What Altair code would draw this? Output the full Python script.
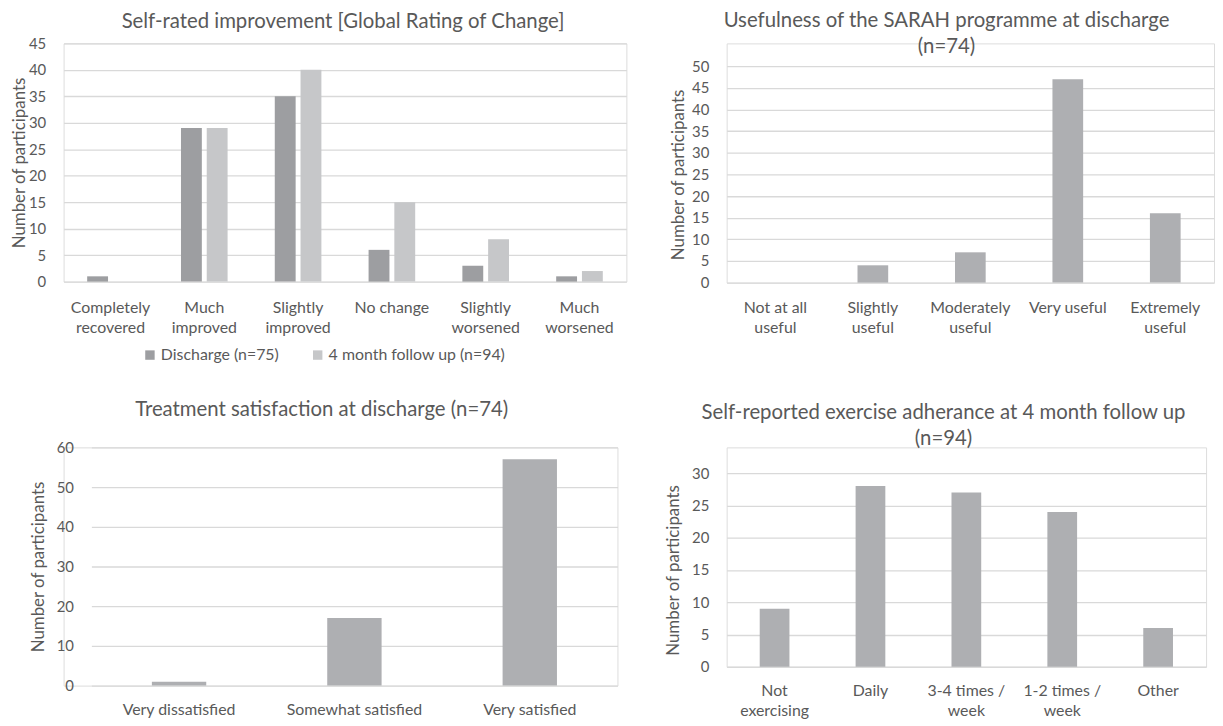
import altair as alt
import pandas as pd

FONT = "Lato"
TEXT = "#595959"
GRID = "#D9D9D9"
BAR = "#AEAFB2"

# ---- Panel 1: Global Rating of Change
gr_categories = ["Completely\nrecovered", "Much\nimproved", "Slightly\nimproved",
                 "No change", "Slightly\nworsened", "Much\nworsened"]
gr_series = ["Discharge (n=75)", "4 month follow up (n=94)"]
gr_discharge = [1, 29, 35, 6, 3, 1]
gr_followup = [0, 29, 40, 15, 8, 2]
gr_colors = ["#9D9EA1", "#C6C7C9"]
gr_ticks = [0, 5, 10, 15, 20, 25, 30, 35, 40, 45]

# ---- Panel 2: Usefulness
use_categories = ["Not at all\nuseful", "Slightly\nuseful", "Moderately\nuseful",
                  "Very useful", "Extremely\nuseful"]
use_values = [0, 4, 7, 47, 16]
use_ticks = [0, 5, 10, 15, 20, 25, 30, 35, 40, 45, 50]

# ---- Panel 3: Satisfaction
sat_categories = ["Very dissatisfied", "Somewhat satisfied", "Very satisfied"]
sat_values = [1, 17, 57]
sat_ticks = [0, 10, 20, 30, 40, 50, 60]

# ---- Panel 4: Exercise adherence
ex_categories = ["Not\nexercising", "Daily", "3-4 times /\nweek", "1-2 times /\nweek", "Other"]
ex_values = [9, 28, 27, 24, 6]
ex_ticks = [0, 5, 10, 15, 20, 25, 30]

LABEL_EXPR = "split(datum.label, '\\n')"


def x_axis(pad=17):
    return alt.Axis(title=None, labelAngle=0, labelExpr=LABEL_EXPR, labelFontSize=16,
                    labelColor=TEXT, labelPadding=pad, labelLineHeight=20, ticks=False,
                    tickSize=0, domain=False, grid=False, labelFont=FONT)


def y_axis(values, title_pad, offset=0):
    kw = dict(values=values, title="Number of participants", grid=True, gridColor=GRID,
              gridWidth=1.3, domain=False, ticks=False, tickSize=0, labelPadding=18,
              labelFontSize=15, labelColor=TEXT, labelFont=FONT, titleFont=FONT,
              titleFontSize=17, titleFontWeight="normal", titleColor=TEXT,
              titlePadding=title_pad)
    if offset:
        kw["offset"] = offset
    return alt.Axis(**kw)


def title(text, dx, dy):
    return alt.TitleParams(text=text, font=FONT, fontSize=20.5, fontWeight="normal",
                           color=TEXT, anchor="middle", frame="group", dx=dx, dy=dy,
                           lineHeight=26)


df1 = pd.DataFrame({
    "category": gr_categories * 2,
    "series": [gr_series[0]] * len(gr_categories) + [gr_series[1]] * len(gr_categories),
    "value": gr_discharge + gr_followup,
})

p1 = alt.Chart(df1).mark_bar().encode(
    x=alt.X("category:N", sort=gr_categories,
            scale=alt.Scale(paddingInner=0.503, paddingOuter=0.2515), axis=x_axis(18)),
    xOffset=alt.XOffset("series:N", sort=gr_series, scale=alt.Scale(paddingInner=0.19)),
    y=alt.Y("value:Q", scale=alt.Scale(domain=[0, 45]), axis=y_axis(gr_ticks, 0)),
    color=alt.Color("series:N", sort=gr_series,
                    scale=alt.Scale(domain=gr_series, range=gr_colors),
                    legend=alt.Legend(title=None, orient="none", legendX=79, legendY=306,
                                      direction="horizontal", symbolType="square",
                                      symbolSize=90, symbolStrokeWidth=0, symbolOpacity=1,
                                      labelFontSize=16, labelColor=TEXT, labelFont=FONT,
                                      labelLimit=400, columnPadding=31, labelOffset=3)),
).properties(width=567, height=240,
             title=title("Self-rated improvement [Global Rating of Change]", -2, 0))

df2 = pd.DataFrame({"category": use_categories, "value": use_values})
p2 = alt.Chart(df2).mark_bar(color=BAR).encode(
    x=alt.X("category:N", sort=use_categories,
            scale=alt.Scale(paddingInner=0.685, paddingOuter=0.3425), axis=x_axis(17)),
    y=alt.Y("value:Q", scale=alt.Scale(domain=[0, 50], range=[241, 23]),
            axis=y_axis(use_ticks, 4)),
).properties(width=491, height=241,
             title=title(["Usefulness of the SARAH programme at discharge", "(n=74)"], -24, 18))

df3 = pd.DataFrame({"category": sat_categories, "value": sat_values})
p3 = alt.Chart(df3).mark_bar(color=BAR).encode(
    x=alt.X("category:N", sort=sat_categories,
            scale=alt.Scale(range=[28, 558], paddingInner=0.69, paddingOuter=0.345),
            axis=x_axis(16)),
    y=alt.Y("value:Q", scale=alt.Scale(domain=[0, 60]), axis=y_axis(sat_ticks, 9, -28)),
).properties(width=558, height=240,
             title=title("Treatment satisfaction at discharge (n=74)", -19, -16))

df4 = pd.DataFrame({"category": ex_categories, "value": ex_values})
p4 = alt.Chart(df4).mark_bar(color=BAR).encode(
    x=alt.X("category:N", sort=ex_categories,
            scale=alt.Scale(paddingInner=0.69, paddingOuter=0.345), axis=x_axis(16)),
    y=alt.Y("value:Q", scale=alt.Scale(domain=[0, 30], range=[221, 26]),
            axis=y_axis(ex_ticks, 9)),
).properties(width=483, height=221,
             title=title(["Self-reported exercise adherance at 4 month follow up", "(n=94)"], -23, 6))

row1 = alt.hconcat(p1, p2, spacing=101, bounds="flush")
row2 = alt.hconcat(p3, p4, spacing=110, bounds="flush")

chart = alt.vconcat(row1, row2, spacing=407, bounds="flush").properties(
    padding={"left": 2, "top": 0, "right": 0, "bottom": 0},
    background="white",
).configure_view(strokeWidth=0).configure(font=FONT)

chart.save("out.html", embed_options={"renderer": "svg", "actions": False})
